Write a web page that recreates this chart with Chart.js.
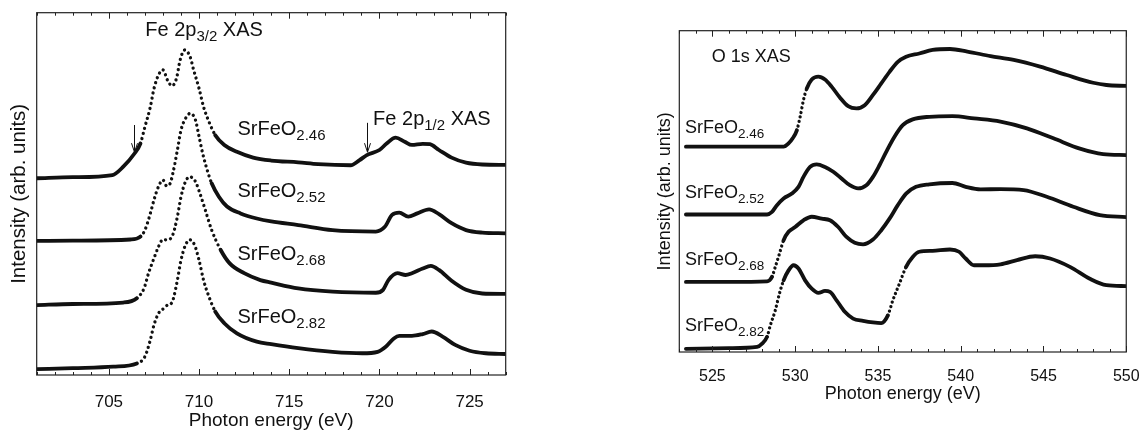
<!DOCTYPE html>
<html>
<head>
<meta charset="utf-8">
<script src="https://cdn.jsdelivr.net/npm/chart.js@4.4.0/dist/chart.umd.min.js"></script>
<style>
  body { margin: 0; background: #fff; width: 1147px; height: 434px; position: relative; overflow: hidden; }
  #feChart { position: absolute; left: 0; top: 0; }
  #oChart { position: absolute; left: 600px; top: 0; }
</style>
</head>
<body>
<canvas id="feChart" width="520" height="434"></canvas>
<canvas id="oChart" width="547" height="434"></canvas>
<script>
// ---- Fe 2p XAS (left panel) ----
const feNames = ['2.46', '2.52', '2.68', '2.82'];
const fe246x = [701, 703, 705.2, 705.8, 706.4, 706.75, 707.0, 707.3, 707.5, 707.75, 708.0, 708.25, 708.5, 708.75, 708.95, 709.2, 709.5, 709.7, 710.0, 710.25, 710.55, 710.9, 711.4, 712.1, 713.0, 714.0, 715.5, 716.6, 718.4, 718.9, 719.3, 720.0, 720.4, 720.9, 721.4, 721.8, 722.4, 722.8, 723.3, 724.0, 724.8, 725.7, 727.0];
const fe246y = [5.43, 5.46, 5.52, 5.75, 6.1, 6.39, 6.85, 7.4, 7.9, 8.28, 8.42, 8.14, 7.98, 8.19, 8.69, 8.97, 8.79, 8.42, 7.91, 7.4, 6.99, 6.62, 6.35, 6.16, 6.0, 5.92, 5.87, 5.82, 5.79, 5.93, 6.07, 6.21, 6.39, 6.55, 6.44, 6.35, 6.38, 6.37, 6.21, 6.0, 5.86, 5.81, 5.8];
const fe252x = [701, 703, 706.2, 706.75, 707.0, 707.3, 707.5, 707.75, 708.0, 708.2, 708.4, 708.55, 708.8, 709.0, 709.25, 709.5, 709.8, 710.0, 710.2, 710.45, 710.7, 711.1, 711.55, 712.3, 713.2, 714.0, 715.5, 717.4, 719.8, 720.3, 720.7, 721.1, 721.6, 722.1, 722.75, 723.3, 724.0, 724.8, 725.7, 727.0];
const fe252y = [3.70, 3.71, 3.74, 3.82, 4.0, 4.46, 4.83, 5.2, 5.38, 5.22, 5.29, 5.57, 6.21, 6.76, 7.08, 7.22, 7.04, 6.58, 6.12, 5.66, 5.29, 4.92, 4.65, 4.46, 4.32, 4.24, 4.14, 4.0, 3.96, 4.09, 4.42, 4.48, 4.37, 4.46, 4.57, 4.44, 4.19, 4.0, 3.93, 3.91];
const fe268x = [701, 703, 705.8, 706.55, 706.95, 707.2, 707.5, 707.75, 708.0, 708.2, 708.5, 708.8, 709.0, 709.25, 709.5, 709.8, 710.05, 710.35, 710.7, 711.2, 711.7, 712.5, 713.4, 714.0, 715.5, 717.4, 719.8, 720.2, 720.5, 721.0, 721.45, 721.8, 722.4, 722.85, 723.3, 724.0, 724.8, 725.7, 727.0];
const fe268y = [1.93, 1.96, 2.0, 2.12, 2.39, 2.81, 3.22, 3.54, 3.74, 3.73, 3.82, 4.37, 4.92, 5.34, 5.47, 5.34, 5.01, 4.55, 4.0, 3.45, 3.08, 2.81, 2.62, 2.55, 2.39, 2.30, 2.27, 2.35, 2.62, 2.81, 2.76, 2.81, 2.94, 3.01, 2.9, 2.6, 2.35, 2.25, 2.24];
const fe282x = [701, 703, 705.25, 706.55, 707.0, 707.3, 707.5, 707.75, 708.05, 708.25, 708.5, 708.6, 708.8, 709.0, 709.25, 709.5, 709.75, 710.0, 710.25, 710.55, 710.9, 711.4, 712.1, 713.2, 714.0, 715.5, 717.4, 719.05, 719.9, 720.35, 720.8, 721.1, 721.8, 722.4, 722.9, 723.5, 724.2, 725.0, 725.9, 727.0];
const fe282y = [0.16, 0.19, 0.23, 0.32, 0.51, 0.97, 1.38, 1.70, 1.84, 1.93, 2.0, 2.15, 2.62, 3.17, 3.59, 3.73, 3.59, 3.17, 2.62, 2.16, 1.75, 1.43, 1.15, 0.92, 0.85, 0.74, 0.64, 0.60, 0.64, 0.78, 1.01, 1.08, 1.08, 1.13, 1.20, 1.06, 0.83, 0.67, 0.60, 0.58];
const feXs = [fe246x, fe252x, fe268x, fe282x];
const feYs = [fe246y, fe252y, fe268y, fe282y];

// ---- O 1s XAS (right panel) ----
const o246x = [523.4, 526, 529.3, 529.6, 529.85, 530.1, 530.3, 530.5, 530.7, 531.0, 531.4, 531.8, 532.2, 532.7, 533.2, 533.7, 534.2, 534.7, 535.2, 535.7, 536.2, 536.7, 537.5, 538.3, 539.35, 540.4, 541.8, 543.2, 544.8, 546.4, 548.0, 548.8, 550];
const o246y = [6.39, 6.39, 6.39, 6.49, 6.65, 6.9, 7.32, 7.84, 8.2, 8.48, 8.57, 8.48, 8.26, 7.92, 7.65, 7.58, 7.68, 8.0, 8.36, 8.72, 9.03, 9.19, 9.29, 9.4, 9.43, 9.35, 9.21, 9.09, 8.88, 8.62, 8.38, 8.31, 8.28];
const o252x = [523.4, 526, 528.3, 528.6, 528.9, 529.3, 529.8, 530.2, 530.5, 530.9, 531.3, 531.8, 532.3, 532.8, 533.3, 533.8, 534.3, 534.7, 535.1, 535.5, 536.0, 536.5, 537.1, 538.1, 539.5, 540.8, 542.4, 544.0, 545.6, 547.2, 548.6, 550];
const o252y = [4.28, 4.28, 4.28, 4.36, 4.57, 4.78, 4.93, 5.14, 5.45, 5.76, 5.84, 5.76, 5.61, 5.4, 5.19, 5.09, 5.19, 5.45, 5.82, 6.23, 6.7, 7.06, 7.24, 7.32, 7.34, 7.27, 7.17, 6.96, 6.65, 6.33, 6.16, 6.13];
const o268x = [523.4, 526, 528.3, 528.6, 528.8, 529.05, 529.3, 529.6, 530.0, 530.5, 531.0, 531.6, 532.1, 532.6, 533.1, 533.6, 534.1, 534.7, 535.2, 535.7, 536.2, 536.7, 537.3, 538.1, 539.5, 540.3, 541.2, 542.4, 543.8, 545.2, 546.8, 548.4, 550];
const o268y = [2.18, 2.18, 2.2, 2.34, 2.65, 3.06, 3.48, 3.74, 3.89, 4.1, 4.21, 4.15, 4.1, 3.89, 3.58, 3.4, 3.35, 3.5, 3.79, 4.15, 4.57, 4.93, 5.14, 5.22, 5.26, 5.14, 5.06, 5.07, 5.04, 4.83, 4.52, 4.26, 4.2];
const o282x = [523.4, 526, 527.7, 528.0, 528.3, 528.5, 528.8, 529.05, 529.3, 529.6, 529.9, 530.2, 530.6, 531.0, 531.4, 531.8, 532.1, 532.5, 533.0, 533.5, 534.1, 534.7, 535.2, 535.6, 535.9, 536.3, 536.7, 537.1, 537.5, 538.3, 539.35, 539.9, 540.3, 540.8, 541.4, 542.4, 543.4, 544.5, 545.4, 546.6, 547.8, 548.8, 550];
const o282y = [0.10, 0.12, 0.16, 0.26, 0.47, 0.83, 1.30, 1.82, 2.23, 2.54, 2.7, 2.6, 2.23, 1.97, 1.84, 1.9, 1.87, 1.61, 1.25, 1.04, 0.97, 0.92, 0.9, 1.14, 1.61, 2.13, 2.65, 2.96, 3.12, 3.15, 3.19, 3.12, 2.91, 2.7, 2.7, 2.73, 2.86, 2.98, 2.91, 2.65, 2.28, 2.08, 2.05];
const oXs = [o246x, o252x, o268x, o282x];
const oYs = [o246y, o252y, o268y, o282y];

const FONT = "'Liberation Sans', Arial, Helvetica, sans-serif";
Chart.defaults.font.family = FONT;
Chart.defaults.color = '#111';

// frame round the plot with inward ticks, plus text notes and arrows
const framePlugin = {
  id: 'frame',
  afterDraw(chart, args, o) {
    const { ctx, chartArea: a, scales } = chart;
    const x = scales.x, y = scales.y;
    ctx.save();
    ctx.strokeStyle = '#222';
    ctx.lineWidth = 1.2;
    ctx.strokeRect(a.left, a.top, a.right - a.left, a.bottom - a.top);
    ctx.lineWidth = 1;
    for (let v = Math.ceil(x.min); v <= x.max; v++) {
      const px = Math.round(x.getPixelForValue(v)) + 0.5;
      const len = v % 5 === 0 ? o.major : o.minor;
      ctx.beginPath();
      ctx.moveTo(px, a.bottom); ctx.lineTo(px, a.bottom - len);
      ctx.moveTo(px, a.top); ctx.lineTo(px, a.top + len);
      ctx.stroke();
    }
    // notes
    ctx.fillStyle = '#111';
    ctx.textBaseline = 'alphabetic';
    ctx.textAlign = 'left';
    (o.notes || []).forEach(n => {
      let px = x.getPixelForValue(n.x);
      const py = y.getPixelForValue(n.y);
      ctx.font = o.size + 'px ' + FONT;
      ctx.fillText(n.main, px, py);
      px += ctx.measureText(n.main).width;
      if (n.sub) {
        ctx.font = o.subSize + 'px ' + FONT;
        ctx.fillText(n.sub, px, py + o.subShift);
        px += ctx.measureText(n.sub).width;
      }
      if (n.tail) {
        ctx.font = o.size + 'px ' + FONT;
        ctx.fillText(n.tail, px, py);
      }
    });
    // arrows
    ctx.strokeStyle = '#111';
    ctx.lineWidth = 1;
    (o.arrows || []).forEach(ar => {
      const px = Math.round(x.getPixelForValue(ar.x)) + 0.5;
      const y0 = y.getPixelForValue(ar.from), y1 = y.getPixelForValue(ar.to);
      ctx.beginPath();
      ctx.moveTo(px, y0); ctx.lineTo(px, y1);
      ctx.moveTo(px - 3, y1 - 9); ctx.lineTo(px, y1); ctx.lineTo(px + 3, y1 - 9);
      ctx.stroke();
    });
    ctx.restore();
  }
};

// steep parts (and the coarse-step region of the Fe scan) show as separate dots
function isDotted(c, coarse) {
  const dx = c.p1.x - c.p0.x, dy = c.p1.y - c.p0.y;
  if (dx <= 0) return false;
  const mid = (c.p0.parsed.x + c.p1.parsed.x) / 2;
  if (coarse && mid > coarse[0] && mid < coarse[1]) return true;
  return Math.abs(dy / dx) > 2.1;
}

function makeSets(xs, ys, coarse, gap) {
  return xs.map((xa, i) => ({
    label: 'SrFeO' + feNames[i],
    data: xa.map((v, j) => ({ x: v, y: ys[i][j] })),
    showLine: true,
    borderColor: '#111',
    borderWidth: 3.8,
    borderCapStyle: 'round',
    borderJoinStyle: 'round',
    pointRadius: 0,
    cubicInterpolationMode: 'monotone',
    segment: {
      borderDash: c => isDotted(c, coarse) ? [0.01, gap] : undefined,
      borderWidth: c => isDotted(c, coarse) ? 3.3 : undefined
    }
  }));
}

new Chart(document.getElementById('feChart'), {
  type: 'scatter',
  data: { datasets: makeSets(feXs, feYs, [706.6, 710.6], 5.2) },
  options: {
    responsive: false,
    animation: false,
    devicePixelRatio: 1,
    layout: { padding: { left: 0, right: 14.3, top: 12.7, bottom: 0 } },
    plugins: {
      legend: { display: false },
      tooltip: { enabled: false },
      frame: {
        major: 6, minor: 3, size: 20, subSize: 15, subShift: 5,
        notes: [
          { x: 707.02, y: 9.36, main: 'Fe 2p', sub: '3/2', tail: ' XAS' },
          { x: 719.65, y: 6.9, main: 'Fe 2p', sub: '1/2', tail: ' XAS' },
          { x: 712.13, y: 6.62, main: 'SrFeO', sub: '2.46' },
          { x: 712.13, y: 4.92, main: 'SrFeO', sub: '2.52' },
          { x: 712.13, y: 3.17, main: 'SrFeO', sub: '2.68' },
          { x: 712.13, y: 1.43, main: 'SrFeO', sub: '2.82' }
        ],
        arrows: [
          { x: 706.37, from: 6.9, to: 6.15 },
          { x: 719.33, from: 6.96, to: 6.15 }
        ]
      }
    },
    scales: {
      x: {
        type: 'linear', min: 701, max: 727,
        grid: { display: false }, border: { display: false },
        ticks: { stepSize: 5, includeBounds: false, autoSkip: false, maxRotation: 0, padding: 9.5, font: { size: 17 } },
        title: { display: true, text: 'Photon energy (eV)', font: { size: 19 }, padding: { top: 0, bottom: 1.6 } },
        afterFit: s => { s.height = 59; }
      },
      y: {
        min: 0, max: 10,
        ticks: { display: false }, grid: { display: false }, border: { display: false },
        title: { display: true, text: 'Intensity (arb. units)', font: { size: 20.5 }, padding: { top: 7, bottom: 0 } },
        afterFit: s => { s.width = 36.7; }
      }
    }
  },
  plugins: [framePlugin]
});

new Chart(document.getElementById('oChart'), {
  type: 'scatter',
  data: { datasets: makeSets(oXs, oYs, null, 4.6) },
  options: {
    responsive: false,
    animation: false,
    devicePixelRatio: 1,
    layout: { padding: { left: 50, right: 20.7, top: 30.7, bottom: 0 } },
    plugins: {
      legend: { display: false },
      tooltip: { enabled: false },
      frame: {
        major: 6, minor: 3, size: 18, subSize: 13.5, subShift: 5,
        notes: [
          { x: 524.96, y: 9.03, main: 'O 1s XAS' },
          { x: 523.34, y: 6.82, main: 'SrFeO', sub: '2.46' },
          { x: 523.34, y: 4.78, main: 'SrFeO', sub: '2.52' },
          { x: 523.34, y: 2.70, main: 'SrFeO', sub: '2.68' },
          { x: 523.34, y: 0.64, main: 'SrFeO', sub: '2.82' }
        ]
      }
    },
    scales: {
      x: {
        type: 'linear', min: 523, max: 550,
        grid: { display: false }, border: { display: false },
        ticks: { stepSize: 5, includeBounds: false, autoSkip: false, maxRotation: 0, padding: 7.4, font: { size: 16 } },
        title: { display: true, text: 'Photon energy (eV)', font: { size: 18 }, padding: { top: 0, bottom: 29.2 } },
        afterFit: s => { s.height = 82; }
      },
      y: {
        min: 0, max: 10,
        ticks: { display: false }, grid: { display: false }, border: { display: false },
        title: { display: true, text: 'Intensity (arb. units)', font: { size: 18 }, padding: { top: 4.2, bottom: 0 } },
        afterFit: s => { s.width = 29.3; }
      }
    }
  },
  plugins: [framePlugin]
});
</script>
</body>
</html>
